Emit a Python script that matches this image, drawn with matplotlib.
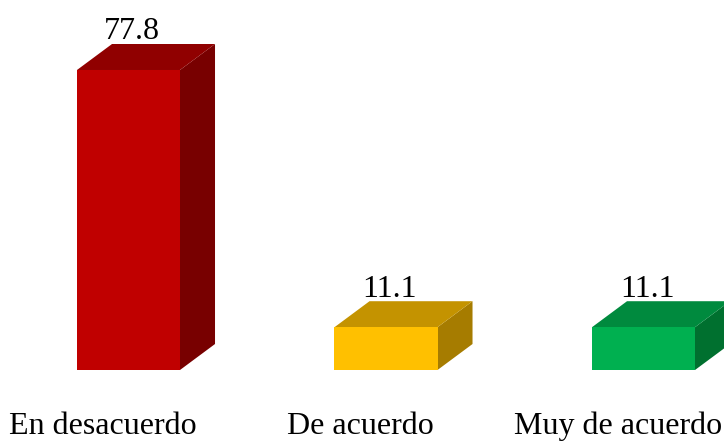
import matplotlib
matplotlib.use("Agg")
import matplotlib.pyplot as plt
from matplotlib.patches import Polygon

categories = ["En desacuerdo", "De acuerdo", "Muy de acuerdo"]
values = [77.8, 11.1, 11.1]
value_labels = ["77.8", "11.1", "11.1"]
front_colors = ["#C00000", "#FFC000", "#00B050"]
top_colors = ["#900000", "#C49300", "#008A3E"]
side_colors = ["#780000", "#A67C00", "#00702F"]

# layout, in data units (1 category = 257.5 px, 1 value unit = 3.856 px)
bar_w = 0.4
dx = 0.136   # depth offset in x
dy = 6.74    # depth offset in y

fig = plt.figure(figsize=(7.24, 4.42), dpi=100)
ax = fig.add_axes([0, 0, 1, 1])
ax.set_xlim(-0.499, 2.3126)
ax.set_ylim(-18.67, 95.95)
ax.axis("off")

font = dict(family="Liberation Serif", size=23, color="black")

for i, (v, fc, tc, sc) in enumerate(zip(values, front_colors, top_colors, side_colors)):
    x0 = i - bar_w / 2
    x1 = i + bar_w / 2
    front = [(x0, 0), (x1, 0), (x1, v), (x0, v)]
    top = [(x0, v), (x1, v), (x1 + dx, v + dy), (x0 + dx, v + dy)]
    side = [(x1, 0), (x1 + dx, dy), (x1 + dx, v + dy), (x1, v)]
    ax.add_patch(Polygon(side, closed=True, facecolor=sc, edgecolor="none"))
    ax.add_patch(Polygon(top, closed=True, facecolor=tc, edgecolor="none"))
    ax.add_patch(Polygon(front, closed=True, facecolor=fc, edgecolor="none"))
    ax.text(i + 0.015, v + dy + 1.2, value_labels[i], ha="center", va="baseline", **font)
    ax.text(i - 0.1, -16.5, categories[i], ha="center", va="baseline", **font)

fig.savefig("out.png", dpi=100)
